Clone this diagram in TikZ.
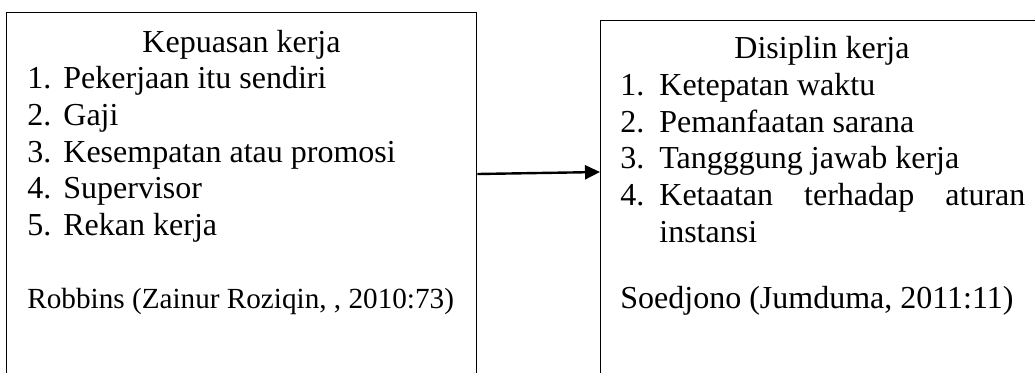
\documentclass[tikz,border=0pt]{standalone}
\usepackage{fontspec}
\setmainfont{Liberation Serif}
\usetikzlibrary{arrows.meta}
\tikzset{
  boxnode/.style={draw, line width=0.7pt, inner sep=0pt, anchor=north west},
  txt/.style={anchor=base west, inner sep=0pt, font=\fontsize{16pt}{18.35pt}\selectfont},
  ttl/.style={anchor=base, inner sep=0pt, font=\fontsize{16pt}{18.35pt}\selectfont},
  src/.style={anchor=base west, inner sep=0pt, font=\fontsize{14.6pt}{17pt}\selectfont},
  arr/.style={line width=1.2pt, -{Triangle[length=7.5pt,width=7pt]}}
}
\begin{document}
\begin{tikzpicture}[x=0.5pt,y=-0.5pt]
\clip (0,0) rectangle (1035,372);
\useasboundingbox (0,0) rectangle (1035,372);
% boxes
\node[boxnode, minimum width=235pt, minimum height=200pt] (L) at (6,12) {};
\node[boxnode, minimum width=222.5pt, minimum height=200pt] (R) at (600,19.5) {};
% left text
\node[ttl] (lt) at (241.5,52) {Kepuasan kerja};
\node[txt] (ln1) at (27,88.7) {1.};
\node[txt] (li1) at (63,88.7) {Pekerjaan itu sendiri};
\node[txt] (ln2) at (27,125.4) {2.};
\node[txt] (li2) at (63,125.4) {Gaji};
\node[txt] (ln3) at (27,162.1) {3.};
\node[txt] (li3) at (63,162.1) {Kesempatan atau promosi};
\node[txt] (ln4) at (27,198.8) {4.};
\node[txt] (li4) at (63,198.8) {Supervisor};
\node[txt] (ln5) at (27,235.5) {5.};
\node[txt] (li5) at (63,235.5) {Rekan kerja};
\node[src] (ls) at (27,308) {Robbins (Zainur Roziqin, , 2010:73)};
% right text
\node[ttl] (rt) at (822,58) {Disiplin kerja};
\node[txt] (rn1) at (620,95) {1.};
\node[txt] (ri1) at (659,95) {Ketepatan waktu};
\node[txt] (rn2) at (620,132) {2.};
\node[txt] (ri2) at (659,132) {Pemanfaatan sarana};
\node[txt] (rn3) at (620,168.5) {3.};
\node[txt] (ri3) at (659,168.5) {Tangggung jawab kerja};
\node[txt] (rn4) at (620,205.5) {4.};
\node[txt] (ri4) at (659,205.5) {\hbox to 183pt{Ketaatan\hfill terhadap\hfill aturan}};
\node[txt] (ri4b) at (659,242) {instansi};
\node[txt] (rs) at (620,308) {Soedjono (Jumduma, 2011:11)};
% arrow
\coordinate (ay) at (0,174);
\coordinate (by) at (0,172);
\draw[arr] (L.north east |- ay) -- (R.north west |- by);
\end{tikzpicture}
\end{document}
